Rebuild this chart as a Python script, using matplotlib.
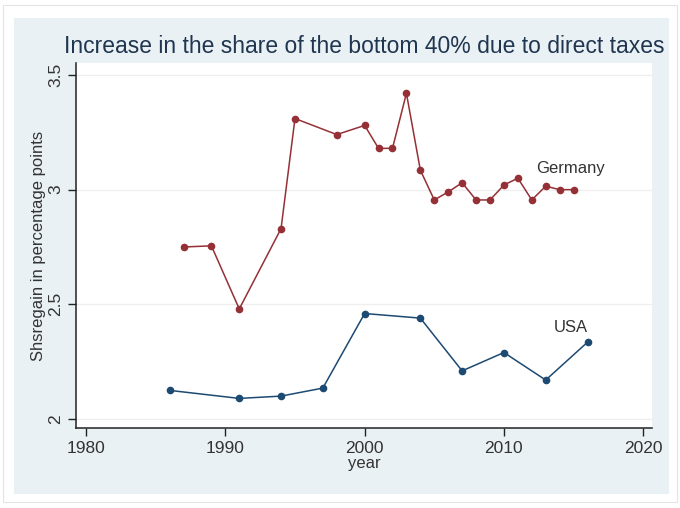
import matplotlib
matplotlib.use('Agg')
import matplotlib.pyplot as plt
from matplotlib.patches import Rectangle

plt.rcParams['font.family'] = ['Liberation Sans', 'DejaVu Sans']

# data
GER_YEARS = [1987, 1989, 1991, 1994, 1995, 1998, 2000, 2001, 2002, 2003, 2004,
             2005, 2006, 2007, 2008, 2009, 2010, 2011, 2012, 2013, 2014, 2015]
GER_VALS  = [2.75, 2.755, 2.48, 2.83, 3.31, 3.24, 3.28, 3.18, 3.18, 3.42, 3.085,
             2.955, 2.99, 3.03, 2.955, 2.955, 3.02, 3.05, 2.955, 3.015, 3.0, 3.0]
USA_YEARS = [1986, 1991, 1994, 1997, 2000, 2004, 2007, 2010, 2013, 2016]
USA_VALS  = [2.125, 2.09, 2.10, 2.135, 2.46, 2.44, 2.21, 2.29, 2.17, 2.335]

XTICKS = [1980, 1990, 2000, 2010, 2020]
YTICKS = [2, 2.5, 3, 3.5]
YTICKLABELS = ['2', '2.5', '3', '3.5']

TITLE  = 'Increase in the share of the bottom 40% due to direct taxes'
YLABEL = 'Shsregain in percentage points'
XLABEL = 'year'

GER_C   = '#953036'
USA_C   = '#1c4a72'
PANEL   = '#eaf1f4'
TXT     = '#333333'

W, H = 680, 508
fig = plt.figure(figsize=(W / 100, H / 100), dpi=100)

# faint outer frame and the light blue-grey graph region
fig.patches.append(Rectangle((3 / W, 1 - 502 / H), 674 / W, 497 / H,
                             transform=fig.transFigure, facecolor='white',
                             edgecolor='#e4e4e4', linewidth=0.8, zorder=-20))
fig.patches.append(Rectangle((14 / W, 1 - 494 / H), 655 / W, 476 / H,
                             transform=fig.transFigure, facecolor=PANEL,
                             edgecolor='none', zorder=-10))

# plot region in pixels: left 76, right 652, top 63, bottom 428
ax = fig.add_axes([76 / W, 1 - 428 / H, (652 - 76) / W, (428 - 63) / H])
ax.set_zorder(1)
ax.set_facecolor('white')

ax.plot(GER_YEARS, GER_VALS, color=GER_C, lw=1.1, marker='o', ms=5.5,
        markeredgewidth=0, zorder=3)
ax.plot(USA_YEARS, USA_VALS, color=USA_C, lw=1.1, marker='o', ms=5.5,
        markeredgewidth=0, zorder=3)

ax.text(2012.3, 3.09, 'Germany', fontsize=12, color=TXT, va='center', ha='left')
ax.text(2013.6, 2.397, 'USA', fontsize=12, color=TXT, va='center', ha='left')

ax.set_xlim(1979.28, 2020.63)
ax.set_ylim(1.961, 3.552)
ax.set_xticks(XTICKS)
ax.set_yticks(YTICKS)
ax.set_yticklabels(YTICKLABELS, rotation=90, va='center')
ax.grid(axis='y', color='#eeeeee', lw=0.9, zorder=0)

for s in ['top', 'right']:
    ax.spines[s].set_visible(False)
for s in ['left', 'bottom']:
    ax.spines[s].set_color('#222222')
    ax.spines[s].set_linewidth(1.1)

ax.tick_params(axis='both', colors='#222222', labelcolor=TXT, labelsize=12.5,
               length=6, width=1.0)
ax.tick_params(axis='y', pad=3)

ax.set_title(TITLE, fontsize=16.5, color='#1f3550', pad=7)
ax.set_xlabel(XLABEL, fontsize=12, color=TXT, labelpad=0)
ax.yaxis.set_label_coords(-0.052, 0.5)
ax.set_ylabel(YLABEL, fontsize=12, color=TXT)

fig.savefig('out.png', dpi=100, facecolor='white')
